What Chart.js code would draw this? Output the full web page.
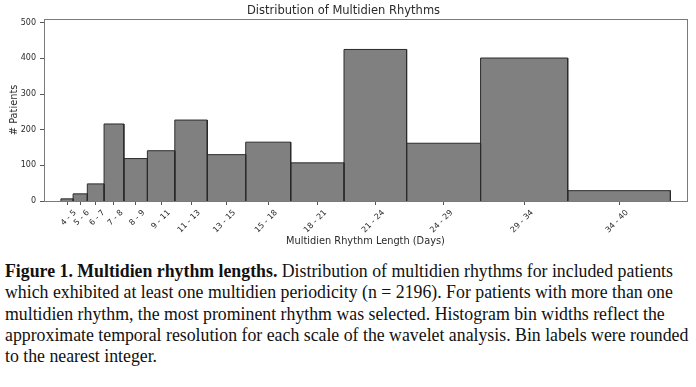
<!DOCTYPE html>
<html>
<head>
<meta charset="utf-8">
<script src="https://cdn.jsdelivr.net/npm/chart.js@4"></script>
<style>
  html, body { margin: 0; padding: 0; background: #fff; }
  body { width: 696px; height: 387px; position: relative; overflow: hidden; }
  #wrap { position: absolute; left: 0; top: 0; width: 696px; height: 252px; }
  #caption {
    position: absolute; left: 5px; top: 261px; width: 720px;
    font-family: "Liberation Serif", "Times New Roman", serif;
    font-size: 17.8px; line-height: 21.3px; color: #111; white-space: nowrap;
  }
</style>
</head>
<body>
<div id="wrap"><canvas id="c" width="696" height="252"></canvas></div>
<div id="caption">
<b>Figure 1. Multidien rhythm lengths.</b> Distribution of multidien rhythms for included patients<br>
which exhibited at least one multidien periodicity (n = 2196). For patients with more than one<br>
multidien rhythm, the most prominent rhythm was selected. Histogram bin widths reflect the<br>
approximate temporal resolution for each scale of the wavelet analysis. Bin labels were rounded<br>
to the nearest integer.
</div>
<script>
// Bin edges (days), counts per bin, and rounded bin labels
const binEdges = [4, 4.72, 5.56, 6.55, 7.72, 9.11, 10.73, 12.65, 14.92, 17.58, 20.73, 24.43, 28.80, 33.95, 40.02];
const patientCounts = [6, 20, 48, 216, 119, 141, 227, 130, 165, 107, 425, 162, 401, 29];
const binLabels = ["4 - 5", "5 - 6", "6 - 7", "7 - 8", "8 - 9", "9 - 11", "11 - 13", "13 - 15", "15 - 18", "18 - 21", "21 - 24", "24 - 29", "29 - 34", "34 - 40"];
const yTicks = [0, 100, 200, 300, 400, 500];

const binCenters = patientCounts.map((_, i) => (binEdges[i] + binEdges[i + 1]) / 2);

const datasets = patientCounts.map((h, i) => ({
  data: [
    {x: binEdges[i], y: 0},
    {x: binEdges[i], y: h},
    {x: binEdges[i + 1], y: h},
    {x: binEdges[i + 1], y: 0}
  ],
  showLine: true,
  fill: 'origin',
  backgroundColor: '#808080',
  borderColor: '#2a2a2a',
  borderWidth: 1,
  pointRadius: 0,
  tension: 0
}));

const frame = {
  id: 'frame',
  afterDatasetsDraw(chart) {
    const {ctx, chartArea: a} = chart;
    ctx.save();
    ctx.strokeStyle = '#7a7a7a';
    ctx.lineWidth = 1;
    ctx.strokeRect(Math.round(a.left) + 0.5, Math.round(a.top) + 0.5, Math.round(a.right - a.left), Math.round(a.bottom - a.top));
    ctx.restore();
  }
};

const txt = '#2a2a2a';
new Chart(document.getElementById('c'), {
  type: 'scatter',
  data: { datasets },
  plugins: [frame],
  options: {
    responsive: false,
    animation: false,
    layout: { padding: { left: 0, right: 9, top: 0, bottom: 0 } },
    plugins: {
      legend: { display: false },
      tooltip: { enabled: false },
      title: {
        display: true,
        text: 'Distribution of Multidien Rhythms',
        color: txt,
        font: { family: 'DejaVu Sans', size: 11.5, weight: 'normal' },
        padding: { top: 4, bottom: 1 }
      }
    },
    scales: {
      x: {
        type: 'linear',
        min: 3, max: 41,
        afterFit(s) { s.height = 51; },
        afterBuildTicks(s) { s.ticks = binCenters.map(v => ({ value: v })); },
        grid: { drawOnChartArea: false, drawTicks: true, tickLength: 4, color: '#555' },
        border: { display: false },
        ticks: {
          autoSkip: false,
          minRotation: 45, maxRotation: 45,
          labelOffset: 8,
          padding: 3,
          color: txt,
          font: { family: 'DejaVu Sans', size: 8 },
          callback: (v, i) => binLabels[i]
        },
        title: {
          display: true,
          text: 'Multidien Rhythm Length (Days)',
          color: txt,
          font: { family: 'DejaVu Sans', size: 9.8 },
          padding: { top: 0, bottom: 5 }
        }
      },
      y: {
        min: 0, max: 511,
        afterFit(s) { s.width = 44; },
        afterBuildTicks(s) { s.ticks = yTicks.map(v => ({ value: v })); },
        grid: { drawOnChartArea: false, drawTicks: true, tickLength: 4, color: '#555' },
        border: { display: false },
        ticks: {
          padding: 4,
          color: txt,
          font: { family: 'DejaVu Sans', size: 8 }
        },
        title: {
          display: true,
          text: '# Patients',
          color: txt,
          font: { family: 'DejaVu Sans', size: 9.8 },
          padding: { top: 9, bottom: 0 }
        }
      }
    }
  }
});
</script>
</body>
</html>
